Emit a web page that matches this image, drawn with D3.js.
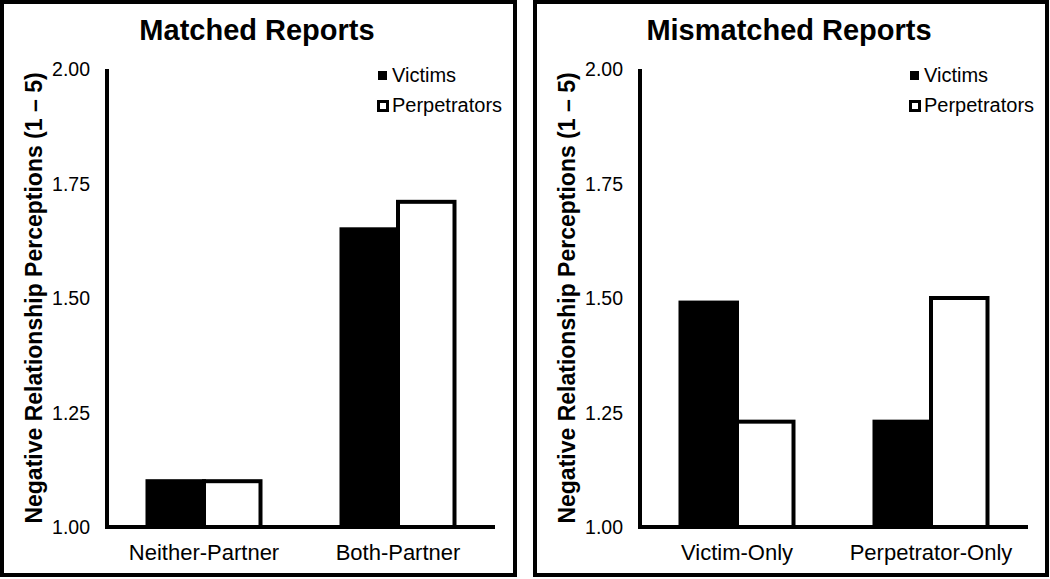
<!DOCTYPE html>
<meta charset="utf-8">
<style>
body { margin: 0; background: #fff; }
svg { display: block; font-family: "Liberation Sans", Arial, sans-serif; }
.title { font-weight: bold; font-size: 29px; text-anchor: middle; }
.ylabel { font-weight: bold; font-size: 23px; text-anchor: middle; }
.tick-label { font-size: 19.5px; text-anchor: end; }
.cat-label { font-size: 22px; text-anchor: middle; }
.legend text { font-size: 20px; }
</style>
<body>
<script src="https://cdn.jsdelivr.net/npm/d3@7"></script>
<script>
// values
var series = ["Victims", "Perpetrators"];
var matchedCats = ["Neither-Partner", "Both-Partner"];
var matchedVictims = [1.10, 1.65];
var matchedPerps = [1.10, 1.71];
var mismatchedCats = ["Victim-Only", "Perpetrator-Only"];
var mismatchedVictims = [1.49, 1.23];
var mismatchedPerps = [1.23, 1.50];
var yTicks = [1.00, 1.25, 1.50, 1.75, 2.00];
var yLabel = "Negative Relationship Perceptions (1 \u2013 5)";

var svg = d3.select("body").append("svg")
    .attr("width", 1050)
    .attr("height", 579);

function drawPanel(opts) {
  var g = svg.append("g").attr("transform", "translate(" + opts.left + ",0)");

  // frame
  g.append("rect")
      .attr("x", 2).attr("y", 2)
      .attr("width", opts.frameW).attr("height", 573)
      .attr("fill", "none").attr("stroke", "#000").attr("stroke-width", 4);

  g.append("text")
      .attr("class", "title")
      .attr("x", opts.titleX).attr("y", 40)
      .text(opts.title);

  var ax = opts.axisX, top = 69, bottom = 527, w = 388;

  var y = d3.scaleLinear().domain([1, 2]).range([bottom, top]);
  var x0 = d3.scaleBand().domain(opts.cats).range([ax, ax + w])
      .paddingInner(0.4175).paddingOuter(0.4175 / 2);
  var x1 = d3.scaleBand().domain(series).range([0, x0.bandwidth()]);

  var rows = opts.cats.map(function(c, i) {
    return { cat: c, values: [opts.victims[i], opts.perps[i]] };
  });

  var groups = g.selectAll(".grp").data(rows).enter().append("g")
      .attr("class", "grp")
      .attr("transform", function(d) { return "translate(" + x0(d.cat) + ",0)"; });

  groups.selectAll("rect")
      .data(function(d) { return d.values.map(function(v, i) { return { s: series[i], v: v }; }); })
      .enter().append("rect")
      .attr("x", function(d) { return x1(d.s); })
      .attr("width", x1.bandwidth())
      .attr("y", function(d) { return y(d.v); })
      .attr("height", function(d) { return bottom - y(d.v); })
      .attr("fill", function(d) { return d.s === "Victims" ? "#000" : "#fff"; })
      .attr("stroke", "#000")
      .attr("stroke-width", 4);

  // axes (plain lines, no tick marks)
  g.append("line")
      .attr("x1", ax).attr("x2", ax)
      .attr("y1", top).attr("y2", bottom + 2)
      .attr("stroke", "#000").attr("stroke-width", 4);
  g.append("line")
      .attr("x1", ax).attr("x2", ax + w)
      .attr("y1", bottom).attr("y2", bottom)
      .attr("stroke", "#000").attr("stroke-width", 4);

  g.selectAll(".tick-label").data(yTicks).enter().append("text")
      .attr("class", "tick-label")
      .attr("x", ax - 17)
      .attr("y", function(d) { return y(d); })
      .attr("dy", "0.36em")
      .text(function(d) { return d3.format(".2f")(d); });

  g.selectAll(".cat-label").data(opts.cats).enter().append("text")
      .attr("class", "cat-label")
      .attr("x", function(d) { return x0(d) + x0.bandwidth() / 2; })
      .attr("y", 560)
      .text(function(d) { return d; });

  g.append("text")
      .attr("class", "ylabel")
      .attr("transform", "translate(" + opts.yLabelX + ",298) rotate(-90)")
      .text(yLabel);

  var legend = g.append("g").attr("class", "legend")
      .attr("transform", "translate(" + opts.legendX + ",0)");
  legend.append("rect")
      .attr("x", 1).attr("y", 71).attr("width", 9).attr("height", 9)
      .attr("fill", "#000");
  legend.append("text").attr("x", 15).attr("y", 82).text(series[0]);
  legend.append("rect")
      .attr("x", 1.5).attr("y", 101.5).attr("width", 9).attr("height", 9)
      .attr("fill", "#fff").attr("stroke", "#000").attr("stroke-width", 3);
  legend.append("text").attr("x", 15).attr("y", 112).text(series[1]);
}

drawPanel({
  left: 0, frameW: 513, title: "Matched Reports", titleX: 257,
  axisX: 107, cats: matchedCats, victims: matchedVictims, perps: matchedPerps,
  yLabelX: 42, legendX: 377
});

drawPanel({
  left: 533, frameW: 512, title: "Mismatched Reports", titleX: 256,
  axisX: 107, cats: mismatchedCats, victims: mismatchedVictims, perps: mismatchedPerps,
  yLabelX: 42, legendX: 376
});
</script>
</body>
